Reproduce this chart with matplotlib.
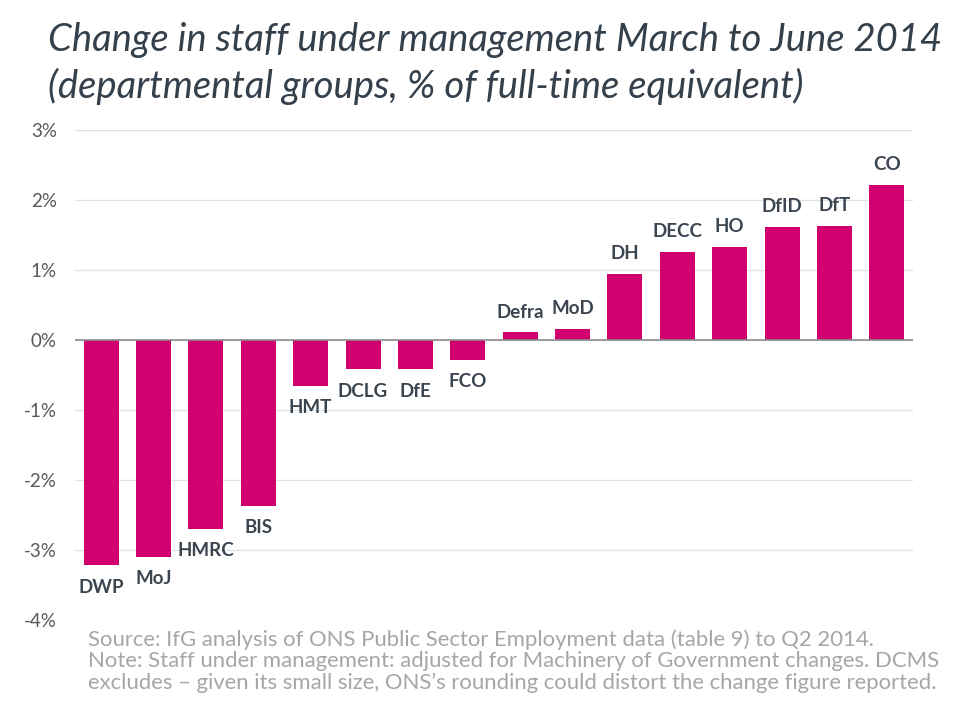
"""Change in staff under management, March to June 2014."""

import matplotlib.pyplot as plt

departments = ["DWP", "MoJ", "HMRC", "BIS", "HMT", "DCLG", "DfE", "FCO",
               "Defra", "MoD", "DH", "DECC", "HO", "DfID", "DfT", "CO"]
change_pct = [-3.22, -3.10, -2.70, -2.37, -0.65, -0.42, -0.42, -0.28,
              0.11, 0.16, 0.94, 1.26, 1.33, 1.61, 1.63, 2.21]
y_ticks = [-4, -3, -2, -1, 0, 1, 2, 3]

BAR_COLOR = "#D0006F"
LABEL_COLOR = "#3A4550"
plt.rcParams["font.family"] = ["Lato", "DejaVu Sans"]

fig = plt.figure(figsize=(9.62, 7.26), dpi=100)
ax = fig.add_axes([75 / 962, 1 - 620 / 726, (913 - 75) / 962, 490 / 726])

x = range(len(departments))
ax.bar(x, change_pct, width=0.67, color=BAR_COLOR, zorder=2)

for i, (name, v) in enumerate(zip(departments, change_pct)):
    offset = 0.29 if v >= 0 else -0.31
    ax.text(i, v + offset, name, ha="center", va="center", fontsize=13.5,
            fontweight="bold", color=LABEL_COLOR)

ax.set_xlim(-0.5, len(departments) - 0.5)
ax.set_ylim(-4, 3)
ax.set_yticks(y_ticks)
ax.set_yticklabels([f"{t}%" for t in y_ticks])
ax.set_xticks([])
ax.tick_params(axis="y", length=0, pad=13, labelsize=13.5, labelcolor="#595959")
ax.grid(axis="y", color="#DCE3E6", linewidth=1, zorder=0)
ax.axhline(0, color="#8C8C8C", linewidth=1.2, zorder=3)
for s in ax.spines.values():
    s.set_visible(False)

fig.text(48 / 962, 1 - 40 / 726, "Change in staff under management March to June 2014",
         fontsize=27.5, style="italic", color="#34404B", va="center")
fig.text(48 / 962, 1 - 86 / 726, "(departmental groups, % of full-time equivalent)",
         fontsize=27.5, style="italic", color="#34404B", va="center")

note = ("Source: IfG analysis of ONS Public Sector Employment data (table 9) to Q2 2014.\n"
        "Note: Staff under management: adjusted for Machinery of Government changes. DCMS\n"
        "excludes \u2013 given its small size, ONS\u2019s rounding could distort the change figure reported.")
fig.text(88 / 962, 1 - 629 / 726, note, fontsize=15.9, color="#A6A6A6", va="top",
         linespacing=1.1)

fig.savefig("out.png", dpi=100)
